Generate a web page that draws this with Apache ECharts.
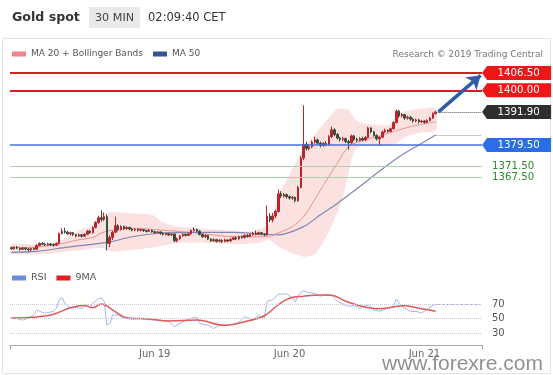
<!DOCTYPE html>
<html><head><meta charset="utf-8">
<script src="https://cdn.jsdelivr.net/npm/echarts@6/dist/echarts.min.js"></script>
<style>html,body{margin:0;padding:0;background:#fff}#c{width:553px;height:375px}</style>
</head><body><div id="c"></div>
<script>
// ---- DATA ----
// candles: [open, close, low, high], 30-minute bars
const candles = [
[1341.0,1340.6,1340.2,1341.4],[1340.6,1341.2,1340.3,1341.5],[1341.2,1340.8,1340.4,1341.6],[1340.8,1340.4,1339.9,1341.1],
[1340.4,1340.9,1340.1,1341.3],[1340.9,1340.5,1340.0,1341.2],[1340.5,1340.2,1339.6,1340.9],[1340.2,1340.7,1339.8,1341.0],
[1340.7,1340.4,1340.0,1341.1],[1340.4,1341.8,1340.2,1342.2],[1341.8,1342.6,1341.5,1343.0],[1342.6,1342.3,1341.9,1343.1],
[1342.3,1342.0,1341.6,1342.8],[1342.0,1342.4,1341.7,1342.9],[1342.4,1342.1,1341.6,1342.7],[1342.1,1341.9,1341.4,1342.6],
[1341.9,1342.6,1341.6,1343.0],[1342.6,1346.3,1342.4,1346.6],[1346.3,1347.2,1345.9,1348.3],[1347.2,1346.8,1346.3,1348.5],
[1346.8,1346.2,1345.8,1347.4],[1346.2,1346.6,1345.6,1347.0],[1346.6,1345.9,1345.4,1346.9],[1345.9,1345.4,1344.9,1346.2],
[1345.4,1345.8,1345.0,1346.3],[1345.8,1345.3,1344.8,1346.1],[1345.3,1346.0,1345.0,1346.4],[1346.0,1347.2,1345.7,1347.6],
[1347.2,1346.6,1346.2,1347.7],[1346.6,1348.6,1346.3,1349.0],[1348.6,1350.4,1348.2,1350.9],[1350.4,1352.2,1350.0,1353.0],
[1352.2,1351.6,1350.8,1355.0],[1351.6,1352.6,1351.0,1354.2],[1352.6,1342.6,1340.0,1353.4],[1342.6,1344.8,1341.2,1345.6],
[1344.8,1346.8,1343.9,1347.3],[1346.8,1349.2,1346.4,1352.6],[1349.2,1347.8,1347.2,1349.8],[1347.8,1348.9,1347.4,1349.4],
[1348.9,1348.2,1347.6,1349.3],[1348.2,1348.6,1347.7,1349.0],[1348.6,1348.0,1347.5,1348.9],[1348.0,1347.6,1347.1,1348.4],
[1347.6,1347.9,1347.2,1348.3],[1347.9,1347.5,1347.0,1348.2],[1347.5,1347.8,1347.1,1348.1],[1347.8,1347.4,1346.9,1348.0],
[1347.4,1347.1,1346.7,1347.7],[1347.1,1347.5,1346.8,1347.9],[1347.5,1347.0,1346.6,1347.8],[1347.0,1346.7,1346.2,1347.3],
[1346.7,1346.9,1346.3,1347.2],[1346.9,1346.4,1345.9,1347.1],[1346.4,1346.0,1345.5,1346.8],[1346.0,1346.3,1345.6,1346.7],
[1346.3,1345.8,1345.3,1346.6],[1345.8,1346.1,1345.4,1346.5],[1346.1,1343.6,1343.0,1346.4],[1343.6,1344.3,1343.0,1344.8],
[1344.3,1345.4,1344.0,1345.8],[1345.4,1346.0,1345.1,1346.4],[1346.0,1345.6,1345.2,1346.3],[1345.6,1346.2,1345.3,1346.6],
[1346.2,1347.4,1345.9,1347.8],[1347.4,1347.8,1347.0,1348.6],[1347.8,1347.2,1346.8,1348.2],[1347.2,1345.9,1345.6,1347.5],
[1345.9,1345.1,1344.7,1346.3],[1345.1,1345.6,1344.6,1346.0],[1345.6,1344.2,1343.8,1345.8],[1344.2,1343.6,1343.1,1344.6],
[1343.6,1344.0,1343.2,1344.5],[1344.0,1343.4,1342.9,1344.3],[1343.4,1343.8,1343.0,1344.2],[1343.8,1343.3,1342.8,1344.1],
[1343.3,1343.9,1343.0,1344.4],[1343.9,1343.5,1343.1,1344.2],[1343.5,1344.1,1343.2,1344.6],[1344.1,1344.7,1343.8,1345.1],
[1344.7,1344.3,1343.9,1345.2],[1344.3,1345.1,1344.0,1345.5],[1345.1,1344.8,1344.4,1345.6],[1344.8,1345.6,1344.5,1346.0],
[1345.6,1345.2,1344.8,1346.1],[1345.2,1345.9,1344.9,1346.3],[1345.9,1346.4,1345.5,1346.9],[1346.4,1346.0,1345.6,1347.4],
[1346.0,1346.6,1345.7,1347.0],[1346.6,1346.1,1345.6,1346.9],[1346.1,1345.8,1345.3,1346.5],[1345.8,1352.8,1345.5,1356.8],
[1352.8,1351.4,1350.6,1354.0],[1351.4,1352.9,1350.5,1354.0],[1352.9,1354.6,1352.1,1355.2],[1354.6,1361.2,1354.2,1362.8],
[1361.2,1360.4,1359.6,1362.2],[1360.4,1360.9,1359.8,1361.5],[1360.9,1360.1,1359.4,1361.3],[1360.1,1359.6,1359.0,1360.6],
[1359.6,1359.9,1358.9,1360.4],[1359.9,1358.6,1358.0,1360.1],[1358.6,1363.6,1358.2,1364.2],[1363.6,1374.6,1363.2,1375.4],
[1374.6,1379.8,1373.8,1394.4],[1379.8,1378.2,1377.4,1380.8],[1378.2,1378.8,1377.6,1379.6],[1378.8,1380.6,1378.3,1381.2],
[1380.6,1381.4,1380.0,1382.6],[1381.4,1380.2,1379.6,1381.9],[1380.2,1379.4,1378.6,1380.8],[1379.4,1380.1,1378.8,1380.6],
[1380.1,1379.6,1379.0,1380.9],[1379.6,1382.6,1379.3,1383.2],[1382.6,1385.2,1382.2,1386.4],[1385.2,1383.4,1382.8,1385.8],
[1383.4,1382.1,1381.5,1384.0],[1382.1,1381.6,1380.8,1382.6],[1381.6,1381.9,1380.9,1382.5],[1381.9,1380.8,1380.2,1382.3],
[1380.8,1380.3,1377.8,1381.4],[1380.3,1382.9,1380.0,1383.4],[1382.9,1381.6,1381.0,1383.3],[1381.6,1381.2,1380.7,1382.2],
[1381.2,1381.9,1380.8,1382.4],[1381.9,1381.4,1380.9,1382.6],[1381.4,1382.3,1381.0,1382.9],[1382.3,1385.9,1382.0,1386.4],
[1385.9,1384.4,1383.9,1386.2],[1384.4,1383.1,1382.6,1384.8],[1383.1,1381.8,1381.2,1383.5],[1381.8,1382.4,1379.4,1382.8],
[1382.4,1384.4,1382.1,1384.9],[1384.4,1385.0,1384.0,1385.6],[1385.0,1384.6,1384.1,1385.4],[1384.6,1385.6,1384.3,1386.0],
[1385.6,1387.9,1385.3,1388.4],[1387.9,1392.2,1387.6,1392.8],[1392.2,1390.4,1389.7,1392.6],[1390.4,1390.9,1389.8,1391.5],
[1390.9,1389.6,1388.9,1391.2],[1389.6,1389.9,1389.0,1390.5],[1389.9,1389.2,1388.6,1390.4],[1389.2,1388.5,1387.9,1389.7],
[1388.5,1388.9,1388.1,1389.4],[1388.9,1388.2,1387.6,1389.3],[1388.2,1388.5,1387.8,1388.9],[1388.5,1388.0,1387.5,1388.8],
[1388.0,1388.7,1387.7,1389.1],[1388.7,1389.6,1388.3,1390.1],[1389.6,1391.3,1389.3,1391.7],[1391.3,1391.9,1390.9,1392.3]
];
// indicator lines: [barIndex, value]
const ma20 = [[0,1341],[9,1341.2],[17,1342.3],[24,1344],[29,1344.8],[32,1346.5],[35,1347.4],[43,1348.3],[53,1347.6],[67,1346.4],[79,1345.1],[91,1345.1],[95,1346.5],[100,1348.9],[104,1352.6],[110,1362.6],[116,1372.7],[120,1378.9],[124,1380.8],[130,1382.6],[136,1384.5],[142,1386.4],[151,1388.2]];
const bbUpper = [[0,1342.3],[9,1342.2],[17,1343.4],[24,1347.5],[29,1349.5],[32,1353.6],[36,1354.3],[44,1353.8],[50,1353.3],[54,1350.5],[58,1349],[66,1348.4],[76,1347.6],[86,1347.2],[92,1350.2],[95,1360],[100,1370.5],[104,1378],[110,1386],[116,1393],[120,1392.6],[123,1388.5],[127,1387.4],[135,1387.2],[138,1391.5],[145,1393],[151,1393.2]];
const bbLower = [[0,1338.8],[9,1338.6],[17,1339.2],[24,1340],[32,1340.9],[36,1339.5],[46,1340.5],[53,1341.5],[60,1342.8],[70,1342.8],[80,1342.2],[88,1342.8],[92,1343.8],[95,1341.4],[100,1338.9],[104,1337.6],[108,1338.5],[112,1345],[116,1354],[118,1360],[120,1369],[122,1377],[124,1378.9],[130,1379.2],[136,1379.6],[140,1382.5],[145,1384],[151,1385]];
const ma50 = [[0,1339.2],[9,1339.6],[20,1341.2],[35,1343.2],[43,1345.1],[53,1346.4],[67,1346.7],[79,1346.7],[91,1346],[95,1345.8],[104,1348.9],[110,1353.3],[116,1357.6],[124,1363.9],[130,1368.9],[138,1375.1],[145,1379.5],[151,1383.25]];
const rsi = [[0,51.4],[2,50],[4,48],[6,50.5],[8,55],[9,62],[10,60],[12,57.5],[15,60],[16,64.4],[17,76],[18,78.4],[19,71.4],[21,64.4],[23,65.3],[25,64],[27,69],[28,64],[29,71.4],[31,77],[32,78.4],[33,73.7],[34,41],[35,43.5],[36,55],[38,55],[39,52.8],[40,50.5],[43,49],[46,50],[49,48.5],[52,48],[56,46.7],[58,38.8],[61,45.8],[64,50.5],[66,52],[67,43.5],[70,41],[72,36.5],[74,41],[76,41],[79,42],[81,45],[83,52.8],[86,48],[88,55],[90,50.5],[91,73.7],[93,76],[95,83],[98,84],[100,78.4],[101,72.8],[102,80],[103,86],[104,88],[106,85.5],[108,84.5],[110,80.7],[112,83],[114,82],[116,73.7],[118,70],[120,66.7],[122,68],[124,64.4],[127,69],[129,62],[131,60],[134,64.4],[136,66.7],[137,77],[139,66.7],[142,60],[144,60],[146,57.5],[148,63],[150,68],[151,70]];
const rsiMa = [[0,51],[8,52],[15,56],[21,65],[26,68],[29,65],[32,70],[36,62],[41,51.4],[49,49.5],[56,46.7],[66,48],[76,41],[84,46.7],[90,54],[95,69],[99,78],[104,80.7],[110,82.5],[114,82],[119,73.7],[125,66.7],[131,63.5],[140,67.5],[146,63.5],[151,60]];
const resistance = [1406.50, 1400.00];
const support = [1379.50, 1371.50, 1367.50];
const targetLevel = 1406.50;
const rsiLevels = [70, 50, 30];
const tickIdx = [51, 99, 147];
const tickLabels = ['Jun 19', 'Jun 20', 'Jun 21'];

// ---- CHART ----
const FONT = 'DejaVu Sans';
const nSlots = 168;
const cats = Array.from({length: nSlots}, (_, i) => String(i));
const lastIdx = candles.length - 1;
const lastClose = candles[lastIdx][1];
const ma50End = ma50[ma50.length - 1];
const rsiEnd = rsi[rsi.length - 1];
const tagPath = 'path://M0,5L5,0L70,0L70,10L5,10Z';
const tag = (v, color) => ({coord: [nSlots - 1, v], value: v.toFixed(2), itemStyle: {color}});

const chart = echarts.init(document.getElementById('c'), null, {renderer: 'canvas'});
chart.setOption({
  animation: false,
  textStyle: {fontFamily: FONT},
  grid: [
    {left: 10, right: 71, top: 61, height: 200},
    {left: 10, right: 71, top: 285, height: 60}
  ],
  xAxis: [
    {type: 'category', data: cats, gridIndex: 0, show: false},
    {type: 'category', data: cats, gridIndex: 1,
     axisLine: {lineStyle: {color: '#a8a8a8'}},
     axisTick: {show: true, interval: (i) => i === 0, length: 4, lineStyle: {color: '#a8a8a8'}},
     axisLabel: {interval: (i) => tickIdx.includes(i), formatter: (v, i) => tickLabels[tickIdx.indexOf(i)] || '',
                 color: '#666', fontSize: 10, margin: 4, fontFamily: FONT},
     splitLine: {show: false}}
  ],
  yAxis: [
    {type: 'value', gridIndex: 0, min: 1336, max: 1411, show: false},
    {type: 'value', gridIndex: 1, min: 14, max: 96, show: false}
  ],
  legend: [
    {left: 12, top: 49.5, padding: 0, itemWidth: 14, itemHeight: 5, itemGap: 10, icon: 'rect', selectedMode: false,
     textStyle: {fontSize: 9, color: '#555', fontFamily: FONT},
     data: [{name: 'MA 20 + Bollinger Bands', itemStyle: {color: '#f08585'}}, {name: 'MA 50', itemStyle: {color: '#2d5596'}}]},
    {left: 12, top: 273, padding: 0, itemWidth: 14, itemHeight: 5, itemGap: 10, icon: 'rect', selectedMode: false,
     textStyle: {fontSize: 9.5, color: '#555', fontFamily: FONT},
     data: [{name: 'RSI', itemStyle: {color: '#6c8cdc'}}, {name: '9MA', itemStyle: {color: '#e31e1e'}}]}
  ],
  graphic: [
    {type: 'rect', silent: true, z: -10, shape: {x: 2.5, y: 38.5, width: 548, height: 335}, style: {fill: 'none', stroke: '#e4e4e4', lineWidth: 1}},
    {type: 'text', silent: true, x: 12, y: 18, style: {text: 'Gold spot', font: 'bold 12.6px "DejaVu Sans"', fill: '#333', verticalAlign: 'middle'}},
    {type: 'rect', silent: true, shape: {x: 89, y: 7, width: 51, height: 21}, style: {fill: '#e9e9e9'}},
    {type: 'text', silent: true, x: 114.5, y: 18, style: {text: '30 MIN', font: '11.2px "DejaVu Sans"', fill: '#444', align: 'center', verticalAlign: 'middle'}},
    {type: 'text', silent: true, x: 148, y: 18, style: {text: '02:09:40 CET', font: '11.5px "DejaVu Sans"', fill: '#333', verticalAlign: 'middle'}},
    {type: 'text', silent: true, x: 543, y: 55, style: {text: 'Research \u00a9 2019 Trading Central', font: '9px "DejaVu Sans"', fill: '#777', align: 'right', verticalAlign: 'middle'}},
    {type: 'text', silent: true, z: 100, x: 543, y: 375, style: {text: 'www.forexre.com', font: '21px "Liberation Sans"', fill: 'rgba(125,125,125,0.85)', align: 'right', verticalAlign: 'bottom'}}
  ],
  series: [
    {type: 'custom', name: 'band', xAxisIndex: 0, yAxisIndex: 0, silent: true, z: 1, data: [0],
     renderItem: (params, api) => {
       if (params.dataIndex !== 0) return null;
       const pts = bbUpper.map(p => api.coord(p)).concat(bbLower.slice().reverse().map(p => api.coord(p)));
       return {type: 'polygon', shape: {points: pts, smooth: 0.25}, style: {fill: 'rgba(244,140,140,0.26)'}};
     }},
    {type: 'line', name: 'MA 20 + Bollinger Bands', xAxisIndex: 0, yAxisIndex: 0, data: ma20, showSymbol: false, smooth: 0.3, z: 2,
     lineStyle: {color: '#e99090', width: 1}, itemStyle: {color: '#f08585'}},
    {type: 'line', name: 'MA 50', xAxisIndex: 0, yAxisIndex: 0, data: ma50, showSymbol: false, smooth: 0.3, z: 2,
     lineStyle: {color: '#7f87b2', width: 1.2}, itemStyle: {color: '#2d5596'}},
    {type: 'candlestick', name: 'Gold', xAxisIndex: 0, yAxisIndex: 0, data: candles, barWidth: 2, z: 3, clip: false,
     itemStyle: {color: '#c0252b', color0: '#33503a', borderColor: '#b8262b', borderColor0: '#33503a', borderWidth: 1},
     markLine: {silent: true, symbol: ['none', 'none'], animation: false, label: {show: false},
       data: [
         {yAxis: resistance[0], lineStyle: {color: '#d42020', width: 2, type: 'solid'}},
         {yAxis: resistance[1], lineStyle: {color: '#d42020', width: 2, type: 'solid'}},
         {yAxis: support[0], lineStyle: {color: '#4a70d8', width: 1.5, type: 'solid'}},
         {yAxis: support[1], lineStyle: {color: '#a9d4a9', width: 1, type: 'solid'},
          label: {show: true, position: 'end', distance: 10, formatter: support[1].toFixed(2), color: '#2f8a2f', fontSize: 10.2, fontFamily: FONT}},
         {yAxis: support[2], lineStyle: {color: '#a9d4a9', width: 1, type: 'solid'},
          label: {show: true, position: 'end', distance: 10, formatter: support[2].toFixed(2), color: '#2f8a2f', fontSize: 10.2, fontFamily: FONT}},
         [{coord: [lastIdx, lastClose], lineStyle: {color: '#555', width: 1, type: 'dotted'}}, {coord: [nSlots - 1, lastClose]}],
         [{coord: [ma50End[0], ma50End[1]], lineStyle: {color: '#999', width: 1, type: 'dotted'}}, {coord: [nSlots - 1, ma50End[1]]}],
         [{coord: [lastIdx + 1, lastClose], symbol: 'none', lineStyle: {color: '#2e5ea6', width: 3.5, type: 'solid'}},
          {coord: [nSlots - 1, targetLevel - 0.9], symbol: 'arrow', symbolSize: 13}]
       ]},
     markPoint: {silent: true, symbol: tagPath, symbolSize: [69, 14], symbolOffset: [36, 0], animation: false,
       label: {show: true, position: 'inside', color: '#fff', fontSize: 10.2, fontFamily: FONT, offset: [2, 0], formatter: '{c}'},
       data: [tag(resistance[0], '#ee1616'), tag(resistance[1], '#ee1616'), tag(lastClose, '#2e2e2e'), tag(support[0], '#2a6de6')]}
    },
    {type: 'line', name: 'RSI', xAxisIndex: 1, yAxisIndex: 1, data: rsi, showSymbol: false, z: 3,
     lineStyle: {color: '#a4b7ea', width: 1}, itemStyle: {color: '#6c8cdc'},
     markLine: {silent: true, symbol: ['none', 'none'], label: {show: false},
       data: [[{coord: [rsiEnd[0], rsiEnd[1]], lineStyle: {color: '#8ea5e2', width: 1, type: [2, 1.5]}}, {coord: [nSlots - 1, rsiEnd[1]]}]]}},
    {type: 'line', name: '9MA', xAxisIndex: 1, yAxisIndex: 1, data: rsiMa, showSymbol: false, smooth: 0.4, z: 4,
     lineStyle: {color: '#e25a5a', width: 1.5}, itemStyle: {color: '#e31e1e'},
     markLine: {silent: true, symbol: ['none', 'none'],
       label: {show: true, position: 'end', distance: 10, color: '#555', fontSize: 10, fontFamily: FONT, formatter: '{c}'},
       lineStyle: {color: '#c9ccd8', width: 1, type: 'dotted'},
       data: rsiLevels.map(v => ({yAxis: v}))}}
  ]
});
</script></body></html>
